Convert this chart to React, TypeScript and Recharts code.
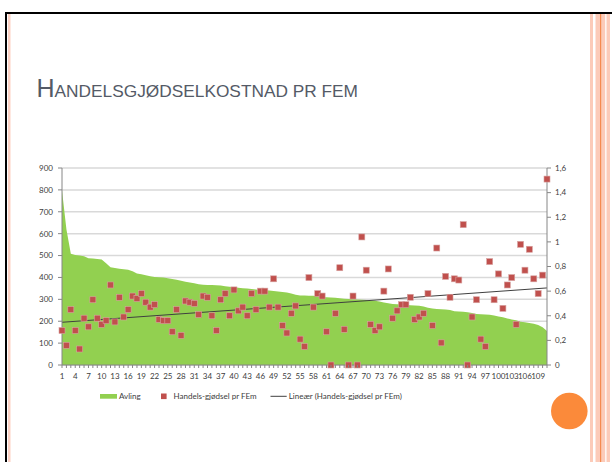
import {
  Area,
  CartesianGrid,
  ComposedChart,
  Line,
  Scatter,
  XAxis,
  YAxis,
} from "recharts";

// løpenummer for gårdene, 1..111
const kategorier = Array.from({ length: 111 }, (_, i) => i + 1);

// Avling (venstre akse)
const avling = [
  797, 620, 508, 503, 500, 497, 488, 487, 484, 482, 465, 447, 443, 440, 437,
  435, 428, 418, 415, 410, 405, 402, 401, 400, 396, 393, 390, 385, 380, 377,
  373, 369, 367, 366, 365, 364, 363, 360, 357, 355, 353, 351, 350, 347, 345,
  343, 341, 340, 338, 336, 334, 331, 327, 321, 318, 317, 316, 316, 314, 311,
  309, 308, 307, 305, 303, 302, 300, 299, 298, 297, 295, 293, 290, 286, 282,
  279, 277, 276, 274, 273, 272, 271, 267, 261, 258, 256, 255, 253, 251, 245,
  244, 243, 241, 237, 233, 232, 231, 229, 226, 222, 218, 213, 208, 204, 198,
  195, 192, 188, 183, 172, 155,
];

// Handels-gjødsel pr FEm (høyre akse)
const gjodsel = [
  0.28, 0.16, 0.45, 0.28, 0.13, 0.38, 0.31, 0.53, 0.38, 0.33, 0.36, 0.65,
  0.35, 0.55, 0.39, 0.45, 0.56, 0.54, 0.58, 0.51, 0.47, 0.49, 0.37, 0.36,
  0.36, 0.27, 0.45, 0.24, 0.52, 0.51, 0.5, 0.41, 0.56, 0.55, 0.4, 0.28, 0.53,
  0.58, 0.4, 0.61, 0.44, 0.47, 0.4, 0.58, 0.45, 0.6, 0.6, 0.47, 0.7, 0.47,
  0.32, 0.26, 0.42, 0.48, 0.21, 0.15, 0.71, 0.47, 0.58, 0.56, 0.27, 0, 0.42,
  0.79, 0.29, 0, 0.56, 0, 1.04, 0.77, 0.33, 0.28, 0.31, 0.6, 0.78, 0.38,
  0.44, 0.49, 0.49, 0.55, 0.37, 0.39, 0.42, 0.58, 0.32, 0.95, 0.18, 0.72,
  0.55, 0.7, 0.69, 1.14, 0, 0.39, 0.53, 0.21, 0.15, 0.84, 0.53, 0.74, 0.46,
  0.65, 0.71, 0.33, 0.98, 0.77, 0.94, 0.7, 0.58, 0.73, 1.51,
];

// lineær trendlinje, lest av i start og slutt
const trendStart = 0.347;
const trendSlutt = 0.626;

const venstreTicks = [0, 100, 200, 300, 400, 500, 600, 700, 800, 900];
const hoyreTicks = [0, 0.2, 0.4, 0.6, 0.8, 1, 1.2, 1.4, 1.6];

const data = kategorier.map((c, i) => ({
  c,
  avling: avling[i],
  gjodsel: gjodsel[i],
  trend:
    i === 0 ? trendStart : i === kategorier.length - 1 ? trendSlutt : null,
}));

const font = "Lato, 'Open Sans', sans-serif";
const tickText = { fontSize: 8, fill: "#404040", fontFamily: font };

function XTick(props: any) {
  const { x, y, payload, index } = props;
  return (
    <g>
      <line x1={x} y1={y} x2={x} y2={y + 3} stroke="#868686" />
      {index % 3 === 0 && (
        <text x={x} y={y + 14} textAnchor="middle" {...tickText}>
          {payload.value}
        </text>
      )}
    </g>
  );
}

const Firkant = (p: any) => (
  <rect
    x={p.cx - 3}
    y={p.cy - 3}
    width={6}
    height={6}
    fill="#C0504D"
    stroke="#D8A3A1"
    strokeWidth={0.6}
  />
);

function Ramme() {
  return (
    <svg
      width={612}
      height={462}
      style={{ position: "absolute", left: 0, top: 0 }}
    >
      <rect x={0} y={0} width={612} height={462} fill="#fff" />
      <rect x={5} y={12} width={607} height={2} fill="#000" />
      <rect x={5} y={12} width={2} height={450} fill="#000" />
      <rect x={8} y={14} width={2.5} height={448} fill="#FDD2C4" />
      <rect x={590} y={14} width={3} height={448} fill="#FCCBB9" />
      <rect x={595.5} y={14} width={4.5} height={448} fill="#FCCBB9" />
      <rect x={600} y={14} width={1.6} height={448} fill="#F58A50" />
      <rect x={601.6} y={14} width={3.6} height={448} fill="#FCCBB9" />
      <rect x={606.5} y={14} width={3.5} height={448} fill="#FCCBB9" />
      <text
        x={36.5}
        y={96.5}
        fill="#545A66"
        fontFamily="'Liberation Sans', Arial, sans-serif"
      >
        <tspan fontSize={25}>H</tspan>
        <tspan fontSize={17.3}>ANDELSGJØDSELKOSTNAD PR FEM</tspan>
      </text>
      {/* forklaring */}
      <rect x={100} y={394} width={17} height={4.7} fill="#92D050" />
      <text x={119} y={399} {...tickText}>
        Avling
      </text>
      <rect x={161} y={393.5} width={5.6} height={5.6} fill="#C0504D" />
      <text x={173.5} y={399} {...tickText}>
        Handels-gjødsel pr FEm
      </text>
      <line x1={270.5} y1={396.3} x2={286.7} y2={396.3} stroke="#404040" />
      <text x={288.7} y={399} {...tickText}>
        Lineær (Handels-gjødsel pr FEm)
      </text>
      <circle cx={569.3} cy={411} r={18.3} fill="#FB8A3A" />
    </svg>
  );
}

export default function App() {
  return (
    <div
      style={{
        position: "absolute",
        left: 0,
        top: 0,
        width: 612,
        height: 462,
        overflow: "hidden",
      }}
    >
      <Ramme />
      <ComposedChart
        width={612}
        height={462}
        data={data}
        margin={{ top: 168, right: 0, bottom: 77, left: 0 }}
        style={{ position: "absolute", left: 0, top: 0 }}
      >
        <CartesianGrid
          yAxisId="left"
          vertical={false}
          stroke="#D9D9D9"
          strokeWidth={1.5}
        />
        <XAxis
          dataKey="c"
          type="category"
          scale="point"
          interval={0}
          height={20}
          tickLine={false}
          tickSize={0}
          tickMargin={0}
          axisLine={{ stroke: "#868686" }}
          tick={(p: any) => <XTick {...p} />}
        />
        <YAxis
          yAxisId="left"
          width={62}
          domain={[0, 900]}
          ticks={venstreTicks}
          interval={0}
          tickSize={4}
          tickMargin={5}
          axisLine={{ stroke: "#868686" }}
          tickLine={{ stroke: "#868686" }}
          tick={tickText}
        />
        <YAxis
          yAxisId="right"
          orientation="right"
          width={65}
          domain={[0, 1.6]}
          ticks={hoyreTicks}
          interval={0}
          tickSize={4}
          tickMargin={4}
          axisLine={{ stroke: "#868686" }}
          tickLine={{ stroke: "#868686" }}
          tick={{ ...tickText, textAnchor: "start" }}
          tickFormatter={(v: number) => String(v).replace(".", ",")}
        />
        <Area
          yAxisId="left"
          dataKey="avling"
          type="linear"
          fill="#92D050"
          fillOpacity={1}
          stroke="none"
          isAnimationActive={false}
        />
        <Line
          yAxisId="right"
          dataKey="trend"
          stroke="#404040"
          strokeWidth={1}
          dot={false}
          connectNulls
          isAnimationActive={false}
        />
        <Scatter
          yAxisId="right"
          dataKey="gjodsel"
          shape={Firkant}
          isAnimationActive={false}
        />
      </ComposedChart>
    </div>
  );
}
